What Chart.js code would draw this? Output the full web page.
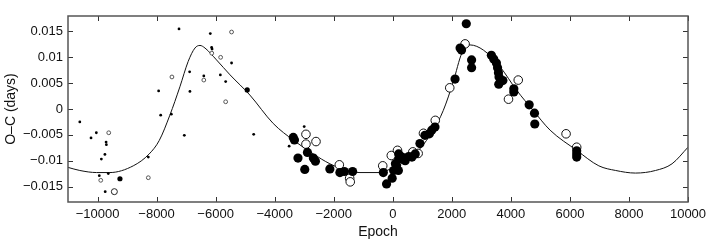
<!DOCTYPE html>
<html>
<head>
<meta charset="utf-8">
<script src="https://cdn.jsdelivr.net/npm/chart.js@4"></script>
<style>
html,body{margin:0;padding:0;background:#fff;}
#wrap{width:713px;height:246px;}
</style>
</head>
<body>
<div id="wrap"><canvas id="c" width="713" height="246"></canvas></div>
<script>
const X_TICKS = [-10000,-8000,-6000,-4000,-2000,0,2000,4000,6000,8000,10000];
const Y_TICKS = [-0.015,-0.01,-0.005,0,0.005,0.01,0.015];

const smallFilledE  = [-10600,-10220,-10040,-9710,-9700,-9870,-9750,-9940,-9635,-9740,-8280,-7930,-7860,-7500,-7240,-7060,-6880,-6870,-6180,-6400,-6135,-6120,-5840,-5660,-5460,-4710,-3000,-3510];
const smallFilledOC = [-0.0025,-0.0056,-0.0046,-0.0064,-0.0069,-0.0097,-0.0088,-0.0129,-0.0125,-0.0160,-0.0093,0.0035,-0.0012,-0.0010,0.0155,-0.0051,0.0072,0.0034,0.0146,0.0064,0.0119,0.0116,0.0066,0.0053,0.0089,-0.0049,-0.0034,-0.0072];

const smallOpenE  = [-9620,-9890,-8280,-7480,-6400,-6130,-5830,-5660,-5460];
const smallOpenOC = [-0.0046,-0.0138,-0.0133,0.0062,0.0056,0.0108,0.0100,0.0014,0.0149];

const medFilledE  = [-9240,-4930];
const medFilledOC = [-0.0135,0.0037];
const medOpenE  = [-9430];
const medOpenOC = [-0.0160];

const largeFilledE  = [-3370,-3330,-3210,-2980,-2890,-2690,-2620,-2130,-1790,-1640,-1360,-320,-210,-20,30,90,130,190,200,200,310,420,540,650,760,920,1090,1240,1320,1430,2110,2280,2330,2490,2670,2670,3340,3420,3510,3550,3580,3600,3590,3730,4100,4100,4620,4800,4810,6230,6230,6230];
const largeFilledOC = [-0.0055,-0.0060,-0.0095,-0.0117,-0.0084,-0.0095,-0.0101,-0.0116,-0.0123,-0.0121,-0.0121,-0.0123,-0.0145,-0.0134,-0.0119,-0.0106,-0.0110,-0.0119,-0.0097,-0.0087,-0.0093,-0.0100,-0.0092,-0.0093,-0.0087,-0.0067,-0.0051,-0.0048,-0.0041,-0.0035,0.0058,0.0118,0.0114,0.0165,0.0095,0.0080,0.0104,0.0097,0.0089,0.0080,0.0070,0.0062,0.0048,0.0055,0.0039,0.0033,0.0008,-0.0008,-0.0029,-0.0081,-0.0087,-0.0093];

const largeOpenE  = [-2940,-2940,-2600,-1810,-1460,-1440,-340,-50,160,680,860,1040,1440,1930,2450,3920,4250,5870,6230];
const largeOpenOC = [-0.0049,-0.0068,-0.0063,-0.0108,-0.0134,-0.0141,-0.0110,-0.0090,-0.0080,-0.0083,-0.0086,-0.0047,-0.0022,0.0041,0.0126,0.0019,0.0056,-0.0048,-0.0074];

const curveE  = [-11000,-10600,-10030,-9580,-8790,-8250,-7910,-7550,-7210,-6930,-6700,-6530,-6360,-5970,-5510,-4840,-4050,-3350,-2690,-2130,-1560,-1110,-430,20,470,920,1370,1710,2050,2340,2620,3070,3630,4200,4760,5330,6230,6980,7550,8220,8900,9460,10000];
const curveOC = [-0.0113,-0.0119,-0.0123,-0.0123,-0.0110,-0.0087,-0.0061,-0.0012,0.0043,0.0092,0.0118,0.0123,0.0118,0.0095,0.0066,0.0027,-0.0028,-0.0061,-0.0087,-0.0106,-0.0119,-0.0123,-0.0123,-0.0113,-0.0100,-0.0077,-0.0041,-0.0003,0.0053,0.0108,0.0124,0.0114,0.0082,0.0036,-0.0003,-0.0041,-0.0080,-0.0110,-0.0119,-0.0124,-0.0119,-0.0106,-0.0074];

const zip = (a,b) => a.map((v,i)=>({x:v,y:b[i]}));
const FONT = "'Liberation Sans', Arial, Helvetica, sans-serif";
const fmt = v => String(v).replace('-', '\u2212');

const frame = {
  id:'frame',
  afterDraw(chart){
    const {ctx, chartArea:a, scales:{x,y}} = chart;
    ctx.save();
    ctx.strokeStyle = '#333';
    ctx.lineWidth = 1;
    const L=5;
    ctx.beginPath();
    X_TICKS.forEach(v=>{
      const px = Math.round(x.getPixelForValue(v))+0.5;
      ctx.moveTo(px,a.bottom); ctx.lineTo(px,a.bottom-L);
      ctx.moveTo(px,a.top); ctx.lineTo(px,a.top+L);
    });
    Y_TICKS.forEach(v=>{
      const py = Math.round(y.getPixelForValue(v))+0.5;
      ctx.moveTo(a.left,py); ctx.lineTo(a.left+L,py);
      ctx.moveTo(a.right,py); ctx.lineTo(a.right-L,py);
    });
    ctx.stroke();
    ctx.strokeStyle = '#555';
    ctx.lineWidth = 1.5;
    ctx.strokeRect(a.left, a.top, a.right-a.left, a.bottom-a.top);
    ctx.restore();
  }
};

new Chart(document.getElementById('c'), {
  type:'scatter',
  data:{datasets:[
    {data:zip(smallFilledE,smallFilledOC), pointRadius:1.4, pointBackgroundColor:'#000', pointBorderWidth:0},
    {data:zip(smallOpenE,smallOpenOC), pointRadius:1.9, pointBackgroundColor:'#fff', pointBorderColor:'#555', pointBorderWidth:1},
    {data:zip(medFilledE,medFilledOC), pointRadius:2.6, pointBackgroundColor:'#000', pointBorderWidth:0},
    {data:zip(medOpenE,medOpenOC), pointRadius:3, pointBackgroundColor:'#fff', pointBorderColor:'#222', pointBorderWidth:1},
    {data:zip(largeFilledE,largeFilledOC), pointRadius:4.6, pointBackgroundColor:'#000', pointBorderWidth:0},
    {data:zip(largeOpenE,largeOpenOC), pointRadius:4.3, pointBackgroundColor:'#fff', pointBorderColor:'#111', pointBorderWidth:1},
    {type:'line', data:zip(curveE,curveOC), borderColor:'#111', borderWidth:1, pointRadius:0, fill:false, cubicInterpolationMode:'monotone'}
  ]},
  options:{
    responsive:false,
    animation:false,
    events:[],
    layout:{padding:{left:0,right:25,top:16,bottom:0}},
    plugins:{legend:{display:false}, tooltip:{enabled:false}},
    scales:{
      x:{
        type:'linear', min:-11000, max:10000,
        afterBuildTicks: s => { s.ticks = X_TICKS.map(v=>({value:v})); },
        afterFit: s => { s.height = 44; },
        grid:{display:false, drawTicks:false},
        border:{display:false},
        ticks:{padding:5, color:'#111', font:{family:FONT,size:13}, maxRotation:0, autoSkip:false, callback:v=>fmt(v)},
        title:{display:true, text:'Epoch', color:'#111', font:{family:FONT,size:14}, padding:{top:0,bottom:5}}
      },
      y:{
        type:'linear', min:-0.018, max:0.018,
        afterBuildTicks: s => { s.ticks = Y_TICKS.map(v=>({value:v})); },
        afterFit: s => { s.width = 68; },
        grid:{display:false, drawTicks:false},
        border:{display:false},
        ticks:{padding:5, color:'#111', font:{family:FONT,size:13}, autoSkip:false, callback:v=>fmt(Math.round(v*1000)/1000)},
        title:{display:true, text:'O\u2013C (days)', color:'#111', font:{family:FONT,size:14}, padding:{top:3,bottom:0}}
      }
    }
  },
  plugins:[frame]
});
</script>
</body>
</html>
